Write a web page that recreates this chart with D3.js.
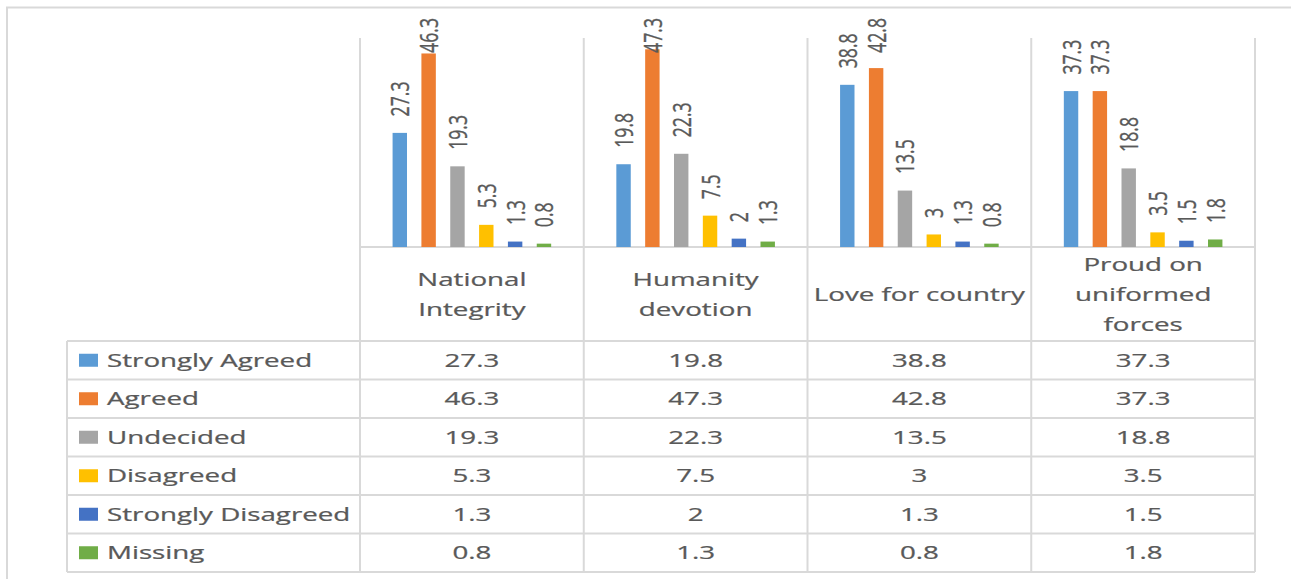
<!DOCTYPE html>
<html>
<head>
<meta charset="utf-8">
<script src="https://cdn.jsdelivr.net/npm/d3@7"></script>
<style>
  body { margin: 0; background: #fff; }
  svg text { font-family: "Open Sans", sans-serif; fill: #595959; stroke: #595959; stroke-width: 0.25; }
</style>
</head>
<body>
<svg></svg>
<script>
const categories = ["National Integrity", "Humanity devotion", "Love for country", "Proud on uniformed forces"];
const categoryLines = [["National", "Integrity"], ["Humanity", "devotion"], ["Love for country"], ["Proud on", "uniformed", "forces"]];
const seriesNames = ["Strongly Agreed", "Agreed", "Undecided", "Disagreed", "Strongly Disagreed", "Missing"];

const stronglyAgreed = [27.3, 19.8, 38.8, 37.3];
const agreed = [46.3, 47.3, 42.8, 37.3];
const undecided = [19.3, 22.3, 13.5, 18.8];
const disagreed = [5.3, 7.5, 3, 3.5];
const stronglyDisagreed = [1.3, 2, 1.3, 1.5];
const missing = [0.8, 1.3, 0.8, 1.8];

const seriesValues = [stronglyAgreed, agreed, undecided, disagreed, stronglyDisagreed, missing];
const colors = ["#5b9bd5", "#ed7d31", "#a5a5a5", "#ffc000", "#4472c4", "#70ad47"];

// the picture is stretched sideways, so every text gets the same x stretch
const stretch = 1.49;
const fontSize = 18.6;
const gridColor = "#d9d9d9";

const svg = d3.select("svg").attr("width", 1291).attr("height", 579);

svg.append("rect")
  .attr("x", 7).attr("y", 7.5)
  .attr("width", 1400).attr("height", 700)
  .attr("fill", "none")
  .attr("stroke", gridColor)
  .attr("stroke-width", 2);

const plotLeft = 360;
const plotRight = 1255;
const plotTop = 38;
const baseline = 247;
const tableTop = 341;
const rowHeight = 38.5;
const tableLeft = 67;
const tableBottom = tableTop + rowHeight * seriesNames.length;

const x0 = d3.scaleBand().domain(categories).range([plotLeft, plotRight]);
const x1 = d3.scaleBand()
  .domain(seriesNames)
  .range([0, x0.bandwidth()])
  .paddingInner(0.5)
  .paddingOuter(1.13);
const y = d3.scaleLinear().domain([0, 50]).range([baseline, plotTop]);

const rowY = d3.scaleBand().domain(seriesNames).range([tableTop, tableBottom]);

// grid and table lines
const lines = svg.append("g").attr("stroke", gridColor).attr("stroke-width", 2);

const edges = categories.map(c => x0(c)).concat([plotRight]);
lines.selectAll("line.v")
  .data(edges)
  .enter()
  .append("line")
  .attr("x1", d => d).attr("x2", d => d)
  .attr("y1", plotTop).attr("y2", tableBottom);

lines.append("line")
  .attr("x1", tableLeft).attr("x2", tableLeft)
  .attr("y1", tableTop).attr("y2", tableBottom);

lines.append("line")
  .attr("x1", plotLeft).attr("x2", plotRight)
  .attr("y1", baseline).attr("y2", baseline);

const rowEdges = seriesNames.map(s => rowY(s)).concat([tableBottom]);
lines.selectAll("line.h")
  .data(rowEdges)
  .enter()
  .append("line")
  .attr("x1", tableLeft).attr("x2", plotRight)
  .attr("y1", d => d).attr("y2", d => d);

// bars
const groups = svg.selectAll("g.cat")
  .data(categories)
  .enter()
  .append("g")
  .attr("class", "cat")
  .attr("transform", d => `translate(${x0(d)},0)`);

groups.selectAll("rect")
  .data((d, ci) => seriesNames.map((s, si) => ({ series: s, value: seriesValues[si][ci], color: colors[si] })))
  .enter()
  .append("rect")
  .attr("x", d => x1(d.series))
  .attr("width", x1.bandwidth())
  .attr("y", d => y(d.value))
  .attr("height", d => baseline - y(d.value))
  .attr("fill", d => d.color);

// rotated data labels
groups.selectAll("text.lbl")
  .data((d, ci) => seriesNames.map((s, si) => ({ series: s, value: seriesValues[si][ci] })))
  .enter()
  .append("text")
  .attr("class", "lbl")
  .attr("font-size", fontSize * 0.95)
  .attr("dy", "0.36em")
  .text(d => d.value)
  .each(function(d) {
    const len = this.getComputedTextLength();
    const start = Math.max(y(d.value) - 16.5, 18 + len);
    const cx = x1(d.series) + x1.bandwidth() / 2;
    d3.select(this).attr("transform", `translate(${cx},${start}) scale(${stretch},1) rotate(-90)`);
  });

// category labels
const lineGap = 30;
groups.each(function(d, ci) {
  const linesOf = categoryLines[ci];
  const mid = (baseline + tableTop) / 2;
  linesOf.forEach(function(txt, li) {
    const ty = mid + (li - (linesOf.length - 1) / 2) * lineGap;
    d3.select(this).append("text")
      .attr("font-size", fontSize)
      .attr("text-anchor", "middle")
      .attr("dy", "0.36em")
      .attr("transform", `translate(${x0.bandwidth() / 2},${ty}) scale(${stretch},1)`)
      .text(txt);
  }, this);
});

// data table
const rows = svg.selectAll("g.row")
  .data(seriesNames)
  .enter()
  .append("g")
  .attr("class", "row")
  .attr("transform", d => `translate(0,${rowY(d) + rowY.bandwidth() / 2})`);

rows.append("rect")
  .attr("x", 79)
  .attr("y", -6.5)
  .attr("width", 19)
  .attr("height", 13)
  .attr("fill", (d, i) => colors[i]);

rows.append("text")
  .attr("font-size", fontSize)
  .attr("dy", "0.36em")
  .attr("transform", `translate(107,0) scale(${stretch},1)`)
  .text(d => d);

rows.each(function(s, si) {
  d3.select(this).selectAll("text.val")
    .data(seriesValues[si])
    .enter()
    .append("text")
    .attr("class", "val")
    .attr("font-size", fontSize)
    .attr("text-anchor", "middle")
    .attr("dy", "0.36em")
    .attr("transform", (v, ci) => `translate(${x0(categories[ci]) + x0.bandwidth() / 2},0) scale(${stretch},1)`)
    .text(v => v);
});
</script>
</body>
</html>
